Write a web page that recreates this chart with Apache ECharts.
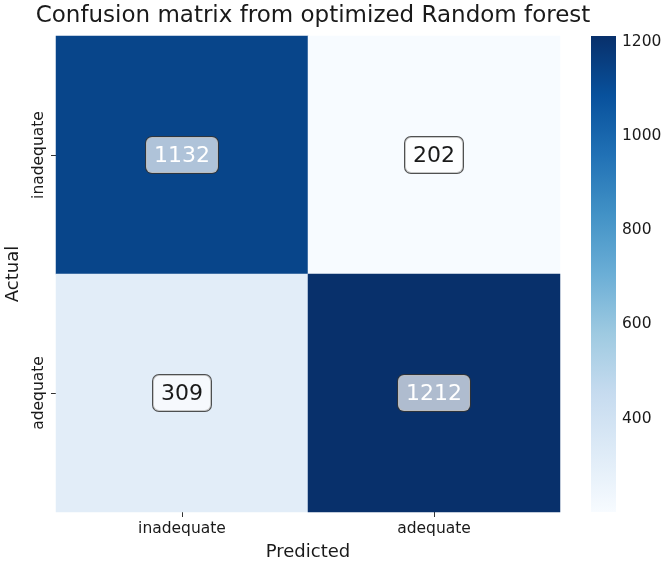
<!DOCTYPE html>
<html>
<head>
<meta charset="utf-8">
<script src="https://cdn.jsdelivr.net/npm/echarts@6/dist/echarts.min.js"></script>
<style>
html,body{margin:0;padding:0;background:#fff;}
#chart{width:671px;height:565px;}
</style>
</head>
<body>
<div id="chart"></div>
<script>
var predictedLabels = ['inadequate', 'adequate'];
var actualLabels = ['inadequate', 'adequate'];
// [predicted index, actual index, count]
var counts = [
    [0, 0, 1132],
    [1, 0, 202],
    [0, 1, 309],
    [1, 1, 1212]
];
var colorbarTicks = [400, 600, 800, 1000, 1200];
var minCount = 202, maxCount = 1212;

// matplotlib "Blues"
var blues = ['#f7fbff', '#deebf7', '#c6dbef', '#9ecae1', '#6baed6', '#4292c6', '#2171b5', '#08519c', '#08306b'];

var font = 'DejaVu Sans';
var chart = echarts.init(document.getElementById('chart'));

// colorbar gradient, dark at top
function colorbarGradient(){
    var stops = [];
    for(var i=0;i<blues.length;i++){
        stops.push({ offset: i/(blues.length-1), color: blues[blues.length-1-i] });
    }
    return new echarts.graphic.LinearGradient(0, 0, 0, 1, stops);
}

chart.setOption({
    animation: false,
    textStyle: { fontFamily: font },
    title: {
        text: 'Confusion matrix from optimized Random forest',
        left: 308,
        top: 0,
        textAlign: 'center',
        textStyle: { fontFamily: font, fontSize: 23, fontWeight: 'normal', color: '#1a1a1a' }
    },
    grid: [
        { left: 56, top: 36, width: 504, height: 476, outerBoundsMode: 'none', containLabel: false },
        { left: 591, top: 36, width: 25, height: 476, outerBoundsMode: 'none', containLabel: false }
    ],
    xAxis: [{
        type: 'category',
        data: predictedLabels,
        gridIndex: 0,
        name: 'Predicted',
        nameLocation: 'middle',
        nameGap: 31,
        nameTextStyle: { fontFamily: font, fontSize: 18, color: '#1a1a1a' },
        axisLine: { show: false },
        axisTick: { show: true, alignWithLabel: true, length: 5, lineStyle: { color: '#333' } },
        axisLabel: { fontFamily: font, fontSize: 15.5, color: '#1a1a1a', margin: 9 },
        splitLine: { show: false }
    }, {
        type: 'value',
        gridIndex: 1,
        show: false,
        min: 0,
        max: 1
    }],
    yAxis: [{
        type: 'category',
        data: actualLabels,
        gridIndex: 0,
        inverse: true,
        name: 'Actual',
        nameLocation: 'middle',
        nameGap: 34,
        nameTextStyle: { fontFamily: font, fontSize: 18, color: '#1a1a1a' },
        axisLine: { show: false },
        axisTick: { show: true, alignWithLabel: true, length: 5, lineStyle: { color: '#333' } },
        axisLabel: { fontFamily: font, fontSize: 15.5, color: '#1a1a1a', rotate: 90, margin: 9 },
        splitLine: { show: false }
    }, {
        type: 'value',
        gridIndex: 1,
        position: 'right',
        min: minCount,
        max: maxCount,
        axisLine: { show: false },
        splitLine: { show: false },
        axisTick: { show: true, length: 4, customValues: colorbarTicks, lineStyle: { color: '#333' } },
        axisLabel: {
            fontFamily: font, fontSize: 15.5, color: '#1a1a1a', margin: 6,
            customValues: colorbarTicks,
            formatter: function(v){ return String(v); }
        }
    }],
    visualMap: {
        type: 'continuous',
        show: false,
        min: minCount,
        max: maxCount,
        seriesIndex: 0,
        inRange: { color: blues }
    },
    series: [{
        type: 'heatmap',
        xAxisIndex: 0,
        yAxisIndex: 0,
        data: counts,
        emphasis: { disabled: true },
        label: {
            show: true,
            formatter: function (p) {
                var v = p.value[2];
                return (v > 700 ? '{w|' : '{k|') + v + '}';
            },
            backgroundColor: 'rgba(255,255,255,0.68)',
            borderColor: 'rgba(50,50,50,0.85)',
            borderWidth: 1,
            borderRadius: 6,
            padding: [6, 8, 4, 8],
            rich: {
                w: { color: '#ffffff', fontSize: 22, fontFamily: font, lineHeight: 26 },
                k: { color: '#1a1a1a', fontSize: 22, fontFamily: font, lineHeight: 26 }
            }
        }
    }, {
        // colorbar
        type: 'bar',
        xAxisIndex: 1,
        yAxisIndex: 1,
        data: [[0.5, maxCount]],
        barWidth: 25,
        silent: true,
        itemStyle: { color: colorbarGradient() }
    }]
});
</script>
</body>
</html>
